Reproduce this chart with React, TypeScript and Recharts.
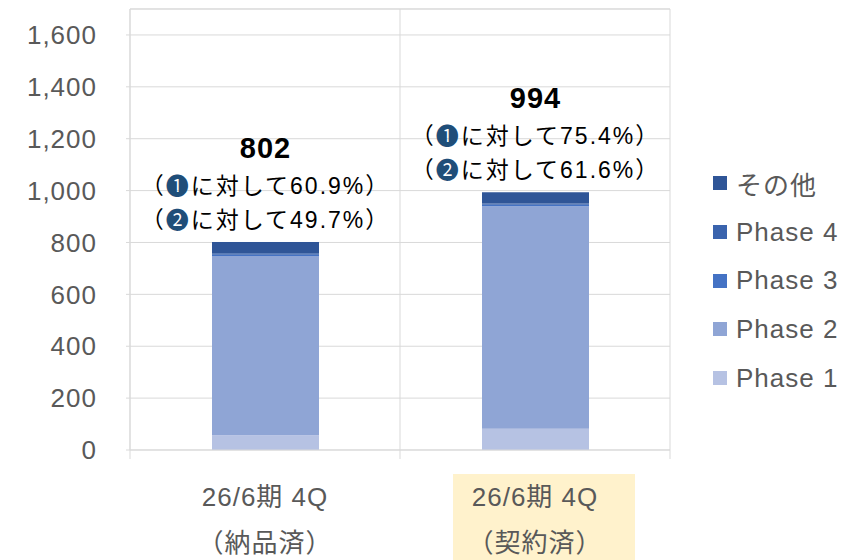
import { BarChart, Bar, XAxis, YAxis, CartesianGrid, ReferenceLine, LabelList } from 'recharts'

const categories = ['26/6期 4Q', '26/6期 4Q']
const subLabels = ['（納品済）', '（契約済）']
const phase1 = [57, 82]
const phase2 = [691, 858]
const phase3 = [5, 5]
const phase4 = [5, 5]
const others = [44, 44]
const ratio1 = ['60.9%', '75.4%']
const ratio2 = ['49.7%', '61.6%']
const yTicks = [0, 200, 400, 600, 800, 1000, 1200, 1400, 1600]

const W = 853
const H = 560
const FONT = "'Liberation Sans', Arial, 'Noto Sans CJK JP', sans-serif"
const GRID = '#d9d9d9'
const TXT = '#595959'

const series = [
  { key: 'p1', name: 'Phase 1', color: '#b6c2e3' },
  { key: 'p2', name: 'Phase 2', color: '#8fa5d5' },
  { key: 'p3', name: 'Phase 3', color: '#4472c4' },
  { key: 'p4', name: 'Phase 4', color: '#3a63ad' },
  { key: 'other', name: 'その他', color: '#2f5597' },
]

const data = categories.map((c, i) => ({
  name: c,
  sub: subLabels[i],
  p1: phase1[i],
  p2: phase2[i],
  p3: phase3[i],
  p4: phase4[i],
  other: others[i],
}))
const totals = data.map(d => d.p1 + d.p2 + d.p3 + d.p4 + d.other)

const MARGIN = { top: 9, right: 183, bottom: 0, left: 0 }
const Y_W = 130
const bandHalf = (W - MARGIN.right - Y_W) / categories.length / 2

function XTick(props: any) {
  const { x, y, payload, index } = props
  const half = payload?.offset || bandHalf
  return (
    <g fill={TXT} fontSize={26} fontFamily={FONT} letterSpacing={1} textAnchor="middle" dominantBaseline="central">
      {index === 1 && <rect x={x - 82} y={y + 24} width={182} height={90} fill="#fff2cc" />}
      <line x1={x - half} x2={x - half} y1={y} y2={y + 9} stroke={GRID} />
      {index === categories.length - 1 && (
        <line x1={x + half} x2={x + half} y1={y} y2={y + 9} stroke={GRID} />
      )}
      <text x={x} y={y + 47}>{payload.value}</text>
      <text x={x} y={y + 93}>{subLabels[index]}</text>
    </g>
  )
}

function TotalLabel(props: any) {
  const { x, y, width, index } = props
  const cx = x + width / 2
  const circle = { fill: '#1f4e79' }
  return (
    <g fontFamily={FONT} textAnchor="middle" dominantBaseline="central" fill="#000">
      <text x={cx} y={y - 94} fontSize={29} fontWeight="bold" letterSpacing={1}>{totals[index]}</text>
      <text x={cx} y={y - 56} fontSize={23} letterSpacing={2}>
        （<tspan {...circle}>❶</tspan>に対して{ratio1[index]}）
      </text>
      <text x={cx} y={y - 22} fontSize={23} letterSpacing={2}>
        （<tspan {...circle}>❷</tspan>に対して{ratio2[index]}）
      </text>
    </g>
  )
}

function LegendBox() {
  return (
    <div style={{ position: 'absolute', left: 713, top: 159, fontFamily: FONT, fontSize: 26, letterSpacing: 1, color: TXT }}>
      {[...series].reverse().map(s => (
        <div key={s.key} style={{ display: 'flex', alignItems: 'center', height: 48.7 }}>
          <span style={{ width: 14, height: 14, background: s.color, display: 'inline-block', marginRight: 9 }} />
          {s.name}
        </div>
      ))}
    </div>
  )
}

export default function App() {
  return (
    <div style={{ position: 'absolute', left: 0, top: 0, width: W, height: H, background: '#fff' }}>
      <BarChart width={W} height={H} data={data} margin={MARGIN} barSize={107}>
        <CartesianGrid
          stroke={GRID}
          verticalCoordinatesGenerator={({ offset }: any) => [
            offset.left,
            offset.left + offset.width / 2,
            offset.left + offset.width,
          ]}
        />
        <ReferenceLine y={1700} stroke={GRID} />
        <XAxis
          dataKey="name"
          height={110}
          axisLine={{ stroke: GRID }}
          tickLine={false}
          tickSize={0}
          tickMargin={0}
          interval={0}
          tick={<XTick />}
        />
        <YAxis
          width={Y_W}
          domain={[0, 1700]}
          ticks={yTicks}
          interval={0}
          tickFormatter={(v: number) => v.toLocaleString('en-US')}
          axisLine={{ stroke: GRID }}
          tickLine={{ stroke: GRID }}
          tickSize={4}
          tickMargin={29}
          tick={{ fill: TXT, fontSize: 26, fontFamily: FONT, letterSpacing: 1 }}
        />
        {series.map(s => (
          <Bar key={s.key} dataKey={s.key} name={s.name} stackId="a" fill={s.color} isAnimationActive={false}>
            {s.key === 'other' && <LabelList dataKey="other" content={<TotalLabel />} />}
          </Bar>
        ))}
      </BarChart>
      <LegendBox />
    </div>
  )
}
